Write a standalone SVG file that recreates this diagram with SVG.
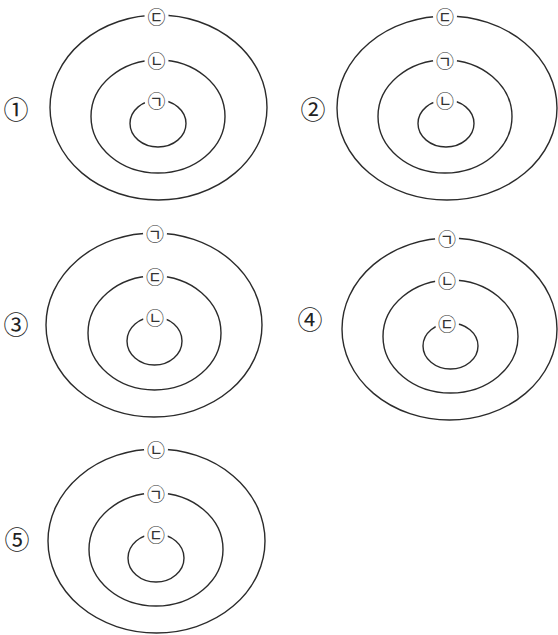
<svg xmlns="http://www.w3.org/2000/svg" width="558" height="635" viewBox="0 0 558 635">
<style>
.ring{fill:none;stroke:#2b2b2b;stroke-width:1.4}
.gap{fill:#fff;stroke:none}
.lab{font-family:"Noto Sans CJK KR",sans-serif;font-size:18px;fill:#333;text-anchor:middle;dominant-baseline:central}
.num{font-family:"Noto Sans CJK KR","DejaVu Sans",sans-serif;font-size:25px;fill:#222;text-anchor:middle;dominant-baseline:central}
</style>
<rect width="558" height="635" fill="#fff"/>
<g id="option1">
<text class="num" x="16" y="108">①</text>
<g id="o1-outer"><ellipse class="ring" cx="158.5" cy="107.5" rx="108.5" ry="92.5"/><circle class="gap" cx="156.5" cy="15.5" r="12"/><text class="lab" x="156.5" y="15.5">㉢</text></g>
<g id="o1-middle"><ellipse class="ring" cx="158" cy="116.5" rx="67" ry="56.5"/><circle class="gap" cx="156.5" cy="60" r="12"/><text class="lab" x="156.5" y="60">㉡</text></g>
<g id="o1-inner"><ellipse class="ring" cx="158" cy="123.5" rx="28" ry="23.5"/><circle class="gap" cx="156.5" cy="100" r="12"/><text class="lab" x="156.5" y="100">㉠</text></g>
</g>
<g id="option2">
<text class="num" x="313" y="108">②</text>
<g id="o2-outer"><ellipse class="ring" cx="447" cy="108" rx="110" ry="92"/><circle class="gap" cx="445" cy="16" r="12"/><text class="lab" x="445" y="16">㉢</text></g>
<g id="o2-middle"><ellipse class="ring" cx="445" cy="116.5" rx="67" ry="56.5"/><circle class="gap" cx="445" cy="60" r="12"/><text class="lab" x="445" y="60">㉠</text></g>
<g id="o2-inner"><ellipse class="ring" cx="446" cy="123.5" rx="28" ry="23.5"/><circle class="gap" cx="445" cy="100" r="12"/><text class="lab" x="445" y="100">㉡</text></g>
</g>
<g id="option3">
<text class="num" x="16" y="323">③</text>
<g id="o3-outer"><ellipse class="ring" cx="154" cy="325" rx="108" ry="92"/><circle class="gap" cx="155" cy="233" r="12"/><text class="lab" x="155" y="233">㉠</text></g>
<g id="o3-middle"><ellipse class="ring" cx="154.5" cy="333" rx="66.5" ry="57"/><circle class="gap" cx="155" cy="276" r="12"/><text class="lab" x="155" y="276">㉢</text></g>
<g id="o3-inner"><ellipse class="ring" cx="154.5" cy="341" rx="27.5" ry="24"/><circle class="gap" cx="155" cy="317" r="12"/><text class="lab" x="155" y="317">㉡</text></g>
</g>
<g id="option4">
<text class="num" x="310" y="318">④</text>
<g id="o4-outer"><ellipse class="ring" cx="449.5" cy="329" rx="107.5" ry="91"/><circle class="gap" cx="447" cy="238" r="12"/><text class="lab" x="447" y="238">㉠</text></g>
<g id="o4-middle"><ellipse class="ring" cx="450.5" cy="336.5" rx="67.5" ry="56.5"/><circle class="gap" cx="447" cy="280" r="12"/><text class="lab" x="447" y="280">㉡</text></g>
<g id="o4-inner"><ellipse class="ring" cx="450.5" cy="346" rx="27.5" ry="23"/><circle class="gap" cx="447" cy="323" r="12"/><text class="lab" x="447" y="323">㉢</text></g>
</g>
<g id="option5">
<text class="num" x="17" y="538">⑤</text>
<g id="o5-outer"><ellipse class="ring" cx="156.5" cy="541" rx="108.5" ry="92"/><circle class="gap" cx="156" cy="449" r="12"/><text class="lab" x="156" y="449">㉡</text></g>
<g id="o5-middle"><ellipse class="ring" cx="156" cy="549.5" rx="67" ry="56.5"/><circle class="gap" cx="156" cy="493" r="12"/><text class="lab" x="156" y="493">㉠</text></g>
<g id="o5-inner"><ellipse class="ring" cx="156" cy="558" rx="28" ry="24"/><circle class="gap" cx="156" cy="534" r="12"/><text class="lab" x="156" y="534">㉢</text></g>
</g>
</svg>
